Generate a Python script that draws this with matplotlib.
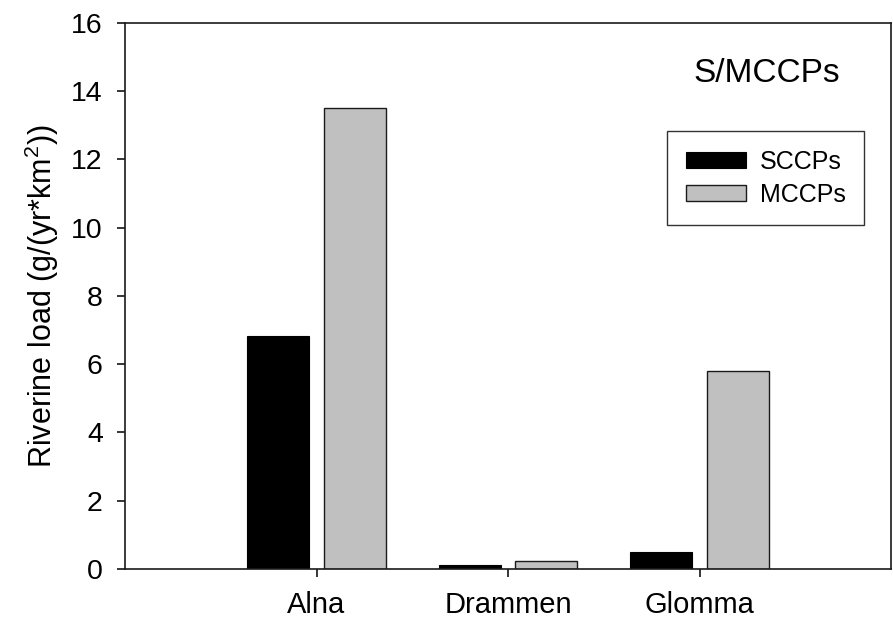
"Riverine load of S/MCCPs per river"

import numpy as np
import matplotlib
matplotlib.use('Agg')
import matplotlib.pyplot as plt

rivers = ['Alna', 'Drammen', 'Glomma']
sccps = [6.83, 0.12, 0.50]   # g/(yr*km2)
mccps = [13.5, 0.23, 5.8]

plt.rcParams['font.family'] = ['Liberation Sans', 'DejaVu Sans']
plt.rcParams['mathtext.fontset'] = 'custom'
plt.rcParams['mathtext.rm'] = 'Liberation Sans'
plt.rcParams['mathtext.default'] = 'regular'

fig = plt.figure(figsize=(8.93, 6.2), dpi=100)
ax = fig.add_axes([0.14, 0.0823, 0.8578, 0.8806])

x = np.arange(1, len(rivers) + 1)
ax.bar(x - 0.2, sccps, 0.324, color='black', edgecolor='black', linewidth=0.8, label='SCCPs')
ax.bar(x + 0.2, mccps, 0.324, color='#c0c0c0', edgecolor='#1a1a1a', linewidth=1.0, label='MCCPs')

ax.set_xlim(0, 4)
ax.set_ylim(0, 16)
ax.set_xticks(x)
ax.set_xticklabels(rivers, fontsize=21)
ax.set_yticks(np.arange(0, 17, 2))
ax.tick_params(axis='y', labelsize=20.5, direction='out', length=6, width=1.1, pad=10, right=False)
ax.tick_params(axis='x', direction='out', length=6, width=1.1, pad=10, top=False)
for s in ax.spines.values():
    s.set_linewidth(1.2)
    s.set_color('#1a1a1a')

ax.set_ylabel('Riverine load (g/(yr*km$^2$))', fontsize=22, labelpad=7)

ax.text(0.933, 0.908, 'S/MCCPs', transform=ax.transAxes, fontsize=24, ha='right', va='center')

leg = ax.legend(loc='upper right', bbox_to_anchor=(0.965, 0.802), fontsize=18,
                frameon=True, fancybox=False, edgecolor='black', borderaxespad=0,
                handlelength=2.4, handleheight=0.6, handletextpad=0.55,
                labelspacing=0.35, borderpad=0.75)
leg.get_frame().set_linewidth(1.0)

plt.savefig('out.png', dpi=100)
